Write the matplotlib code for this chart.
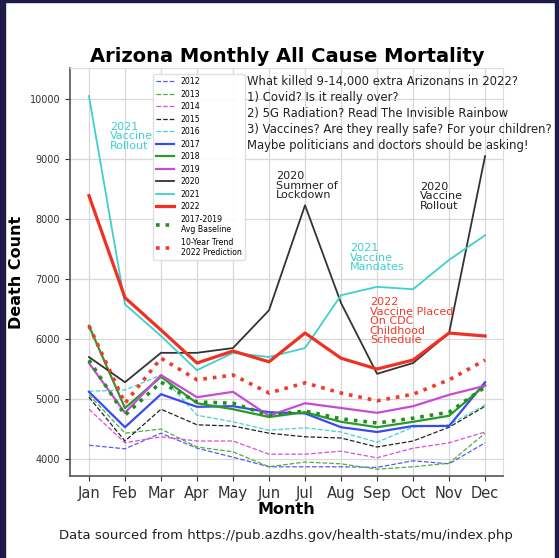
import matplotlib
matplotlib.use("Agg")
import matplotlib.pyplot as plt
from matplotlib.patches import Rectangle

months = ["Jan", "Feb", "Mar", "Apr", "May", "Jun", "Jul", "Aug", "Sep", "Oct", "Nov", "Dec"]

y2012 = [4230, 4170, 4430, 4180, 4030, 3870, 3870, 3870, 3860, 3970, 3920, 4270]
y2013 = [5070, 4430, 4500, 4200, 4120, 3870, 3950, 3920, 3830, 3870, 3930, 4430]
y2014 = [4830, 4270, 4370, 4300, 4300, 4080, 4080, 4130, 4020, 4180, 4270, 4450]
y2015 = [5030, 4300, 4830, 4570, 4550, 4430, 4370, 4350, 4200, 4300, 4530, 4880]
y2016 = [5130, 5150, 5400, 4730, 4620, 4480, 4520, 4450, 4280, 4530, 4570, 4900]
y2017 = [5120, 4530, 5080, 4870, 4880, 4780, 4760, 4530, 4450, 4550, 4550, 5280]
y2018 = [6220, 4850, 5370, 4930, 4830, 4700, 4780, 4620, 4530, 4620, 4720, 5230]
y2019 = [5600, 4770, 5400, 5030, 5120, 4720, 4930, 4850, 4770, 4880, 5070, 5220]
y2020 = [5700, 5280, 5770, 5770, 5850, 6480, 8230, 6600, 5420, 5600, 6100, 9050]
y2021 = [10050, 6580, 6050, 5480, 5770, 5700, 5850, 6730, 6870, 6830, 7320, 7730]
y2022 = [8390, 6690, 6150, 5600, 5800, 5620, 6100, 5680, 5500, 5650, 6100, 6050]
baseline = [5650, 4730, 5280, 4950, 4930, 4730, 4800, 4670, 4600, 4680, 4780, 5200]
prediction = [6220, 4930, 5680, 5320, 5400, 5100, 5270, 5100, 4970, 5080, 5320, 5650]

fig = plt.figure(figsize=(5.59, 5.58), dpi=100)
ax = fig.add_axes([0.125, 0.147, 0.775, 0.731])

x = list(range(len(months)))
dash_lw = 0.9
ax.plot(x, y2012, linestyle="--", color="#5a5af0", lw=dash_lw, label="2012")
ax.plot(x, y2013, linestyle="--", color="#4caf3c", lw=dash_lw, label="2013")
ax.plot(x, y2014, linestyle="--", color="#d94fd9", lw=dash_lw, label="2014")
ax.plot(x, y2015, linestyle="--", color="#222222", lw=dash_lw, label="2015")
ax.plot(x, y2016, linestyle="--", color="#3fd3d3", lw=dash_lw, label="2016")
ax.plot(x, y2017, linestyle="-", color="#3a4af0", lw=1.6, label="2017")
ax.plot(x, y2018, linestyle="-", color="#2a9a2a", lw=1.6, label="2018")
ax.plot(x, y2019, linestyle="-", color="#c94ad6", lw=1.6, label="2019")
ax.plot(x, y2020, linestyle="-", color="#333333", lw=1.3, label="2020")
ax.plot(x, y2021, linestyle="-", color="#3fcfcf", lw=1.3, label="2021")
ax.plot(x, y2022, linestyle="-", color="#f03020", lw=2.3, label="2022")
ax.plot(x, baseline, linestyle=":", color="#1f8f1f", lw=2.6, label="2017-2019\nAvg Baseline")
ax.plot(x, prediction, linestyle=":", color="#f03a2a", lw=2.6, label="10-Year Trend\n2022 Prediction")

ax.set_xlim(-0.53, 11.5)
ax.set_ylim(3717, 10517)
ax.set_xticks(x)
ax.set_xticklabels(months, fontsize=10.5, color="#333333")
ax.set_yticks([4000, 5000, 6000, 7000, 8000, 9000, 10000])
ax.tick_params(axis="y", labelsize=7, colors="#333333")
ax.tick_params(axis="x", colors="#333333")
ax.grid(True, color="#d8d8d8", lw=0.9)
ax.set_axisbelow(True)
for s in ["top", "right"]:
    ax.spines[s].set_color("#dddddd")
for s in ["left", "bottom"]:
    ax.spines[s].set_color("#555555")
    ax.spines[s].set_linewidth(1.2)

ax.set_xlabel("Month", fontsize=11.5, fontweight="bold", labelpad=1)
ax.set_ylabel("Death Count", fontsize=11.5, fontweight="bold")
fig.text(0.513, 0.898, "Arizona Monthly All Cause Mortality", ha="center", va="center",
         fontsize=14, fontweight="bold")
fig.text(0.512, 0.041, "Data sourced from https://pub.azdhs.gov/health-stats/mu/index.php",
         ha="center", va="center", fontsize=9.5, color="#222222")

leg = ax.legend(loc="upper left", bbox_to_anchor=(0.182, 0.995), fontsize=5.6,
                handlelength=2.4, labelspacing=0.45, borderpad=0.4, framealpha=0.9,
                edgecolor="#dddddd")

ann = 8
ax.text(0.58, 9620, "2021\nVaccine\nRollout", color="#3fcfcf", fontsize=ann, va="top", linespacing=0.95)
ax.text(5.2, 8800, "2020\nSummer of\nLockdown", color="#222222", fontsize=ann, va="top", linespacing=0.95)
ax.text(9.2, 8620, "2020\nVaccine\nRollout", color="#222222", fontsize=ann, va="top", linespacing=0.95)
ax.text(7.25, 7600, "2021\nVaccine\nMandates", color="#3fcfcf", fontsize=ann, va="top", linespacing=0.95)
ax.text(7.8, 6700, "2022\nVaccine Placed\nOn CDC\nChildhood\nSchedule", color="#f03a2a",
        fontsize=ann, va="top", linespacing=0.95)
ax.text(4.4, 10400, "What killed 9-14,000 extra Arizonans in 2022?\n1) Covid? Is it really over?\n"
        "2) 5G Radiation? Read The Invisible Rainbow\n3) Vaccines? Are they really safe? For your children?\n"
        "Maybe politicians and doctors should be asking!", color="#222222", fontsize=8.4,
        va="top", linespacing=1.3)

navy = "#1e1b4b"
fig.patches.append(Rectangle((0, 0), 5 / 559, 1, transform=fig.transFigure, color=navy, zorder=10))
fig.patches.append(Rectangle((1 - 4 / 559, 0), 4 / 559, 1, transform=fig.transFigure, color=navy, zorder=10))
fig.patches.append(Rectangle((0, 1 - 2 / 558), 1, 2 / 558, transform=fig.transFigure, color=navy, zorder=10))

fig.savefig("out.png", dpi=100)
